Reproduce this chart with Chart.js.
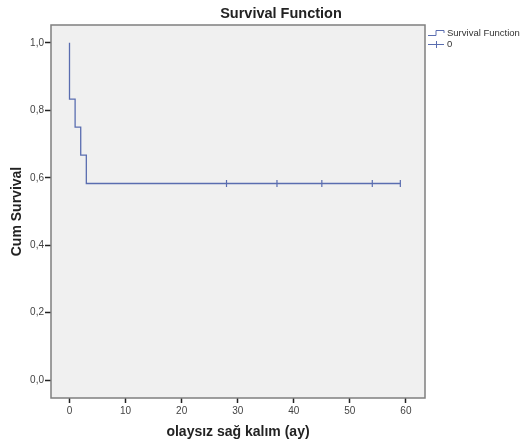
<!DOCTYPE html>
<html><head><meta charset="utf-8">
<script src="https://cdn.jsdelivr.net/npm/chart.js@4"></script>
<style>html,body{margin:0;padding:0;background:#fff}#wrap{width:522px;height:445px}</style>
</head><body><div id="wrap"><canvas id="c" width="522" height="445"></canvas></div>
<script>
const chartTitle = 'Survival Function';
const xTitle = 'olaysız sağ kalım (ay)';
const yTitle = 'Cum Survival';
const legendLabels = ['Survival Function', '0'];
const stepTimes = [0, 0, 1, 2, 3, 59];
const stepSurvival = [1.0, 0.833, 0.75, 0.667, 0.583, 0.583];
const censorTimes = [28, 37, 45, 54, 59];
const censorSurvival = [0.583, 0.583, 0.583, 0.583, 0.583];
const xTicks = [0, 10, 20, 30, 40, 50, 60];
const yTicks = [0, 0.2, 0.4, 0.6, 0.8, 1.0];

const lineColor = '#5a6db0';
const FONT = '"Liberation Sans", Arial, sans-serif';

const decor = {
  id: 'decor',
  beforeDraw(chart) {
    const {ctx, chartArea: a} = chart;
    ctx.save();
    ctx.fillStyle = '#f0f0f0';
    ctx.fillRect(a.left, a.top, a.right - a.left, a.bottom - a.top);
    ctx.restore();
  },
  afterDraw(chart) {
    const {ctx, chartArea: a} = chart;
    ctx.save();
    ctx.strokeStyle = '#7f7f7f';
    ctx.lineWidth = 1.5;
    ctx.strokeRect(a.left, a.top, a.right - a.left, a.bottom - a.top);
    // title
    ctx.fillStyle = '#222';
    ctx.font = 'bold 14.5px ' + FONT;
    ctx.textAlign = 'center';
    ctx.textBaseline = 'middle';
    ctx.fillText(chartTitle, 281, 13.5);
    // legend
    ctx.strokeStyle = lineColor;
    ctx.lineWidth = 1;
    const lx = a.right + 3;
    ctx.beginPath();
    ctx.moveTo(lx, 35.5); ctx.lineTo(lx + 8, 35.5); ctx.lineTo(lx + 8, 30.5);
    ctx.lineTo(lx + 16, 30.5); ctx.lineTo(lx + 16, 33);
    ctx.stroke();
    ctx.beginPath();
    ctx.moveTo(lx, 44.5); ctx.lineTo(lx + 16, 44.5);
    ctx.moveTo(lx + 8.5, 41); ctx.lineTo(lx + 8.5, 48);
    ctx.stroke();
    ctx.fillStyle = '#333';
    ctx.font = '9.5px ' + FONT;
    ctx.textAlign = 'left';
    ctx.fillText(legendLabels[0], lx + 19, 33);
    ctx.fillText(legendLabels[1], lx + 19, 44.5);
    ctx.restore();
  }
};

new Chart(document.getElementById('c'), {
  type: 'line',
  data: {
    datasets: [
      {
        label: legendLabels[0],
        data: stepTimes.map((t, i) => ({x: t, y: stepSurvival[i]})),
        stepped: 'before',
        borderColor: lineColor,
        borderWidth: 1.3,
        pointRadius: 0,
        fill: false
      },
      {
        label: legendLabels[1],
        type: 'scatter',
        data: censorTimes.map((t, i) => ({x: t, y: censorSurvival[i]})),
        pointStyle: 'line',
        rotation: 90,
        pointRadius: 3.5,
        borderColor: lineColor,
        borderWidth: 1.2,
        showLine: false
      }
    ]
  },
  options: {
    responsive: false,
    animation: false,
    devicePixelRatio: 1,
    layout: {padding: {left: 0, right: 97, top: 25, bottom: 0}},
    plugins: {legend: {display: false}, title: {display: false}, tooltip: {enabled: false}},
    scales: {
      x: {
        type: 'linear', min: -3.3, max: 63.4,
        afterBuildTicks: s => { s.ticks = xTicks.map(v => ({value: v})); },
        afterFit: s => { s.height = 47; },
        grid: {drawOnChartArea: false, drawTicks: true, tickLength: 5, tickColor: '#222', tickWidth: 1.5},
        border: {display: false},
        ticks: {color: '#444', font: {size: 10, family: FONT}, padding: 2, maxRotation: 0},
        title: {display: true, text: xTitle, color: '#222', font: {size: 14, weight: 'bold', family: FONT}, padding: {top: 6}}
      },
      y: {
        type: 'linear', min: -0.053, max: 1.053,
        afterBuildTicks: s => { s.ticks = yTicks.map(v => ({value: v})); },
        afterFit: s => { s.width = 51; },
        grid: {drawOnChartArea: false, drawTicks: true, tickLength: 6, tickColor: '#222', tickWidth: 1.5},
        border: {display: false},
        ticks: {color: '#444', font: {size: 10, family: FONT}, padding: 1,
          callback: v => v.toFixed(1).replace('.', ',')},
        title: {display: true, text: yTitle, color: '#222', font: {size: 14, weight: 'bold', family: FONT}, padding: {top: 9, bottom: 0}}
      }
    }
  },
  plugins: [decor]
});
</script></body></html>
